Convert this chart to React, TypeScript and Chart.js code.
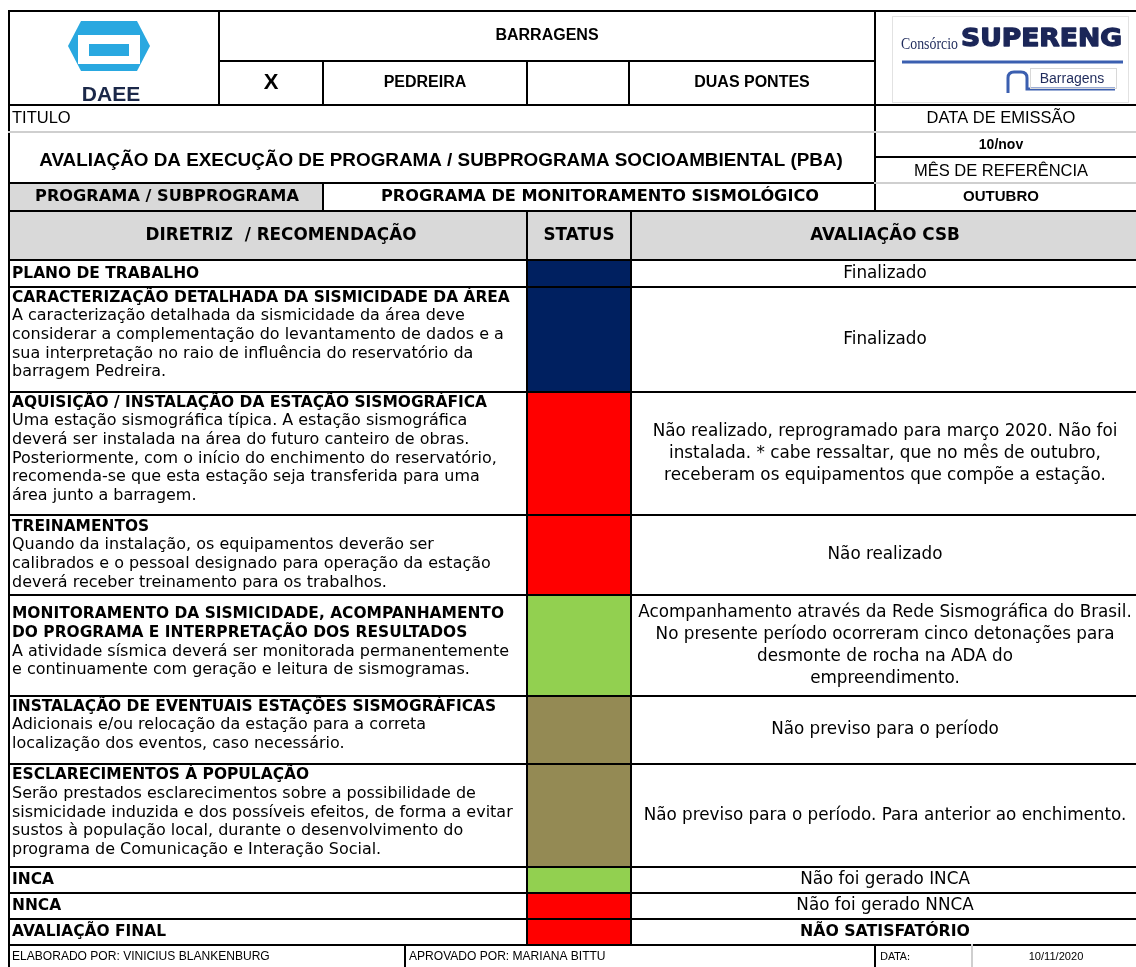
import React, { useEffect, useRef } from 'react';
import { Chart, registerables } from 'chart.js';

Chart.register(...registerables);

// ---------------- DATA ----------------
const HEADER_OBRA = 'BARRAGENS';
const HEADER_MARK = 'X';
const HEADER_BARRAGEM_1 = 'PEDREIRA';
const HEADER_BARRAGEM_2 = 'DUAS PONTES';
const TITLE_LABEL = 'TITULO';
const TITLE_TEXT = 'AVALIAÇÃO DA EXECUÇÃO DE PROGRAMA / SUBPROGRAMA SOCIOAMBIENTAL (PBA)';
const DATE_LABEL = 'DATA DE EMISSÃO';
const DATE_VALUE = '10/nov';
const MONTH_LABEL = 'MÊS DE REFERÊNCIA';
const MONTH_VALUE = 'OUTUBRO';
const PROGRAM_LABEL = 'PROGRAMA / SUBPROGRAMA';
const PROGRAM_NAME = 'PROGRAMA DE MONITORAMENTO SISMOLÓGICO';
const COLUMN_HEADERS = ['DIRETRIZ  / RECOMENDAÇÃO', 'STATUS', 'AVALIAÇÃO CSB'];

const DIRETRIZ_TITLES: string[][] = [
  ['PLANO DE TRABALHO'],
  ['CARACTERIZAÇÃO DETALHADA DA SISMICIDADE DA ÁREA'],
  ['AQUISIÇÃO / INSTALAÇÃO DA ESTAÇÃO SISMOGRÁFICA'],
  ['TREINAMENTOS'],
  ['MONITORAMENTO DA SISMICIDADE, ACOMPANHAMENTO', 'DO PROGRAMA E INTERPRETAÇÃO DOS RESULTADOS'],
  ['INSTALAÇÃO DE EVENTUAIS ESTAÇÕES SISMOGRÁFICAS'],
  ['ESCLARECIMENTOS À POPULAÇÃO'],
  ['INCA'],
  ['NNCA'],
  ['AVALIAÇÃO FINAL'],
];

const DIRETRIZ_TEXTS: string[][] = [
  [],
  [
    'A caracterização detalhada da sismicidade da área deve',
    'considerar a complementação do levantamento de dados e a',
    'sua interpretação no raio de influência do reservatório da',
    'barragem Pedreira.',
  ],
  [
    'Uma estação sismográfica típica. A estação sismográfica',
    'deverá ser instalada na área do futuro canteiro de obras.',
    'Posteriormente, com o início do enchimento do reservatório,',
    'recomenda-se que esta estação seja transferida para uma',
    'área junto a barragem.',
  ],
  [
    'Quando da instalação, os equipamentos deverão ser',
    'calibrados e o pessoal designado para operação da estação',
    'deverá receber treinamento para os trabalhos.',
  ],
  [
    'A atividade sísmica deverá ser monitorada permanentemente',
    'e continuamente com geração e leitura de sismogramas.',
  ],
  [
    'Adicionais e/ou relocação da estação para a correta',
    'localização dos eventos, caso necessário.',
  ],
  [
    'Serão prestados esclarecimentos sobre a possibilidade de',
    'sismicidade induzida e dos possíveis efeitos, de forma a evitar',
    'sustos à população local, durante o desenvolvimento do',
    'programa de Comunicação e Interação Social.',
  ],
  [],
  [],
  [],
];

const STATUS = [
  'concluido',
  'concluido',
  'atrasado',
  'atrasado',
  'em_andamento',
  'nao_previsto',
  'nao_previsto',
  'em_andamento',
  'atrasado',
  'atrasado',
];

const AVALIACAO: string[][] = [
  ['Finalizado'],
  ['Finalizado'],
  [
    'Não realizado, reprogramado para março 2020. Não foi',
    'instalada. * cabe ressaltar, que no mês de outubro,',
    'receberam os equipamentos que compõe a estação.',
  ],
  ['Não realizado'],
  [
    'Acompanhamento através da Rede Sismográfica do Brasil.',
    'No presente período ocorreram cinco detonações para',
    'desmonte de rocha na ADA do',
    'empreendimento.',
  ],
  ['Não previso para o período'],
  ['Não previso para o período. Para anterior ao enchimento.'],
  ['Não foi gerado INCA'],
  ['Não foi gerado NNCA'],
  ['NÃO SATISFATÓRIO'],
];

const FOOTER_ELABORADO = 'ELABORADO POR: VINICIUS BLANKENBURG';
const FOOTER_APROVADO = 'APROVADO POR: MARIANA BITTU';
const FOOTER_DATA_LABEL = 'DATA:';
const FOOTER_DATA_VALUE = '10/11/2020';

// ---------------- LAYOUT / STYLE ----------------
const W = 1136;
const H = 967;
const ROW_HEIGHTS = [27, 105, 123, 80, 101, 68, 103, 26, 26, 26];
// first-line offset from the row top (null = vertically centred)
const LEFT_TOP_PAD: (number | null)[] = [null, 10.5, 10.5, 11.5, 19, 10.5, 11, null, null, null];
const STATUS_COLORS: Record<string, string> = {
  concluido: '#002060',
  atrasado: '#FF0000',
  em_andamento: '#92D050',
  nao_previsto: '#948A54',
};
const X_L = 9;
const X_STATUS = 527;
const X_EVAL = 631;
const X_R = 1140;
const Y_BODY = 260;
const Y_END = 945;
const GRAY_FILL = '#d9d9d9';
const GRAY_LINE = '#cfcfcf';
const DEJAVU = '"DejaVu Sans"';
const LIB = '"Liberation Sans"';

function fitSize(ctx: CanvasRenderingContext2D, text: string, weight: string, family: string, target: number) {
  ctx.font = `${weight} 20px ${family}`;
  return (20 * target) / ctx.measureText(text).width;
}

const tablePlugin = {
  id: 'tablePlugin',
  afterDraw(chart: any) {
    const ctx: CanvasRenderingContext2D = chart.ctx;
    const yScale = chart.scales.y;
    ctx.save();

    const hline = (y: number, x1: number, x2: number, color = '#000', lw = 2) => {
      ctx.strokeStyle = color;
      ctx.lineWidth = lw;
      ctx.beginPath();
      ctx.moveTo(x1 - 1, y);
      ctx.lineTo(x2 + 1, y);
      ctx.stroke();
    };
    const vline = (x: number, y1: number, y2: number, color = '#000', lw = 2) => {
      ctx.strokeStyle = color;
      ctx.lineWidth = lw;
      ctx.beginPath();
      ctx.moveTo(x, y1 - 1);
      ctx.lineTo(x, y2 + 1);
      ctx.stroke();
    };
    const txt = (s: string, x: number, y: number, font: string, align: CanvasTextAlign = 'left', color = '#000') => {
      ctx.font = font;
      ctx.textAlign = align;
      ctx.textBaseline = 'middle';
      ctx.fillStyle = color;
      ctx.fillText(s, x, y);
    };

    // ---- fills ----
    ctx.fillStyle = GRAY_FILL;
    ctx.fillRect(X_L, 183, 323 - X_L, 28);
    ctx.fillRect(X_L, 211, X_R - X_L, Y_BODY - 211);

    // ---- DAEE logo ----
    const cx = 109;
    ctx.fillStyle = '#29a8e0';
    ctx.beginPath();
    ctx.moveTo(cx - 28, 21);
    ctx.lineTo(cx + 28, 21);
    ctx.lineTo(cx + 41, 46);
    ctx.lineTo(cx + 28, 71);
    ctx.lineTo(cx - 28, 71);
    ctx.lineTo(cx - 41, 46);
    ctx.closePath();
    ctx.fill();
    ctx.fillStyle = '#ffffff';
    ctx.fillRect(cx - 31, 35, 62, 9);
    ctx.fillRect(cx - 31, 56, 62, 8);
    ctx.fillRect(cx - 31, 44, 11, 12);
    ctx.fillRect(cx + 20, 44, 11, 12);
    txt('DAEE', cx + 2, 95, `bold 21px ${LIB}`, 'center', '#1b2849');

    // ---- SUPERENG logo ----
    ctx.strokeStyle = '#e2e2e2';
    ctx.lineWidth = 1;
    ctx.strokeRect(892.5, 16.5, 236, 86);
    ctx.save();
    ctx.font = `16px "Liberation Serif"`;
    const cw = ctx.measureText('Consórcio').width;
    ctx.translate(901, 45);
    ctx.scale(57 / cw, 1);
    ctx.fillStyle = '#1f2b5c';
    ctx.textBaseline = 'middle';
    ctx.textAlign = 'left';
    ctx.fillText('Consórcio', 0, 0);
    ctx.restore();
    ctx.save();
    ctx.font = `bold 24px ${DEJAVU}`;
    const sw = ctx.measureText('SUPERENG').width;
    ctx.translate(961, 40);
    ctx.scale(161 / sw, 1);
    ctx.fillStyle = '#1b2658';
    ctx.strokeStyle = '#1b2658';
    ctx.lineWidth = 1.3;
    ctx.lineJoin = 'round';
    ctx.textBaseline = 'middle';
    ctx.textAlign = 'left';
    ctx.fillText('SUPERENG', 0, 0);
    ctx.strokeText('SUPERENG', 0, 0);
    ctx.restore();
    ctx.strokeStyle = '#3b5fb0';
    ctx.lineWidth = 3;
    ctx.beginPath();
    ctx.moveTo(902, 62);
    ctx.lineTo(1123, 62);
    ctx.stroke();
    ctx.beginPath();
    ctx.moveTo(1008, 93);
    ctx.lineTo(1008, 78);
    ctx.quadraticCurveTo(1008, 72, 1014, 72);
    ctx.lineTo(1021, 72);
    ctx.quadraticCurveTo(1027, 72, 1027, 78);
    ctx.lineTo(1027, 89);
    ctx.lineTo(1115, 89);
    ctx.stroke();
    ctx.strokeStyle = '#d8d8d8';
    ctx.lineWidth = 1;
    ctx.strokeRect(1030.5, 68.5, 86, 20);
    txt('Barragens', 1072, 79, `14px ${LIB}`, 'center', '#1f2b5c');

    // ---- header texts ----
    txt(HEADER_OBRA, 547, 36, `bold 16px ${LIB}`, 'center');
    txt(HEADER_MARK, 271, 83, `bold 22px ${LIB}`, 'center');
    txt(HEADER_BARRAGEM_1, 425, 83, `bold 16px ${LIB}`, 'center');
    txt(HEADER_BARRAGEM_2, 752, 83, `bold 16px ${LIB}`, 'center');

    const smallSize = fitSize(ctx, DATE_LABEL, 'normal', LIB, 149);
    txt(TITLE_LABEL, 12, 118, `${smallSize}px ${LIB}`, 'left');
    txt(DATE_LABEL, 1001, 118, `${smallSize}px ${LIB}`, 'center');
    txt(DATE_VALUE, 1001, 145, `bold 14px ${LIB}`, 'center');
    txt(MONTH_LABEL, 1001, 171, `${smallSize}px ${LIB}`, 'center');
    txt(MONTH_VALUE, 1001, 197, `bold 15px ${LIB}`, 'center');

    const titleSize = fitSize(ctx, TITLE_TEXT, 'bold', LIB, 804);
    txt(TITLE_TEXT, 441, 161, `bold ${titleSize}px ${LIB}`, 'center');

    const progSize = fitSize(ctx, PROGRAM_LABEL, 'bold', DEJAVU, 264);
    txt(PROGRAM_LABEL, 167, 197, `bold ${progSize}px ${DEJAVU}`, 'center');
    txt(PROGRAM_NAME, 600, 197, `bold ${progSize}px ${DEJAVU}`, 'center');

    const headSize = progSize * 1.04;
    txt(COLUMN_HEADERS[0], 281, 236, `bold ${headSize}px ${DEJAVU}`, 'center');
    txt(COLUMN_HEADERS[1], 579, 236, `bold ${headSize}px ${DEJAVU}`, 'center');
    txt(COLUMN_HEADERS[2], 885, 236, `bold ${headSize}px ${DEJAVU}`, 'center');

    // ---- body ----
    const boldSize = fitSize(ctx, DIRETRIZ_TITLES[1][0], 'bold', DEJAVU, 498);
    const regSize = fitSize(ctx, DIRETRIZ_TEXTS[1][1], 'normal', DEJAVU, 492);
    const evalSize = fitSize(ctx, AVALIACAO[2][0], 'normal', DEJAVU, 465);
    const LH_LEFT = 18.7;
    const LH_EVAL = 21.8;

    let acc = 0;
    const bounds: number[] = [yScale.getPixelForValue(0)];
    ROW_HEIGHTS.forEach((h, i) => {
      const top = yScale.getPixelForValue(acc);
      acc += h;
      const bottom = yScale.getPixelForValue(acc);
      bounds.push(bottom);
      const lines = [
        ...DIRETRIZ_TITLES[i].map((s) => ({ s, bold: true })),
        ...DIRETRIZ_TEXTS[i].map((s) => ({ s, bold: false })),
      ];
      const n = lines.length;
      const pad = LEFT_TOP_PAD[i];
      const y0 = pad !== null ? top + pad : (top + bottom) / 2 - ((n - 1) * LH_LEFT) / 2;
      lines.forEach((l, k) => {
        txt(
          l.s,
          12,
          y0 + k * LH_LEFT,
          l.bold ? `bold ${boldSize}px ${DEJAVU}` : `${regSize}px ${DEJAVU}`,
          'left'
        );
      });
      const ev = AVALIACAO[i];
      const isFinal = i === ROW_HEIGHTS.length - 1;
      const e0 = (top + bottom) / 2 - ((ev.length - 1) * LH_EVAL) / 2;
      ev.forEach((s, k) => {
        txt(
          s,
          885,
          e0 + k * LH_EVAL,
          isFinal ? `bold ${boldSize * 1.02}px ${DEJAVU}` : `${evalSize}px ${DEJAVU}`,
          'center'
        );
      });
    });

    // ---- footer ----
    const footSize = fitSize(ctx, FOOTER_ELABORADO, 'normal', LIB, 258);
    txt(FOOTER_ELABORADO, 12, 957, `${footSize}px ${LIB}`, 'left');
    txt(FOOTER_APROVADO, 409, 957, `${footSize}px ${LIB}`, 'left');
    txt(FOOTER_DATA_LABEL, 880, 957, `10.5px ${DEJAVU}`, 'left');
    txt(FOOTER_DATA_VALUE, 1056, 957, `${footSize * 0.92}px ${LIB}`, 'center');

    // ---- grid lines ----
    hline(11, X_L, X_R);
    vline(X_L, 11, H);
    vline(219, 11, 105);
    hline(61, 219, 875);
    vline(875, 11, 211);
    vline(323, 61, 105);
    vline(527, 61, 105);
    vline(629, 61, 105);
    hline(105, X_L, X_R);
    hline(132, X_L, X_R, GRAY_LINE, 2);
    hline(157, 875, X_R);
    hline(183, X_L, 875);
    hline(183, 875, X_R, GRAY_LINE, 2);
    vline(323, 183, 211);
    hline(211, X_L, X_R);
    bounds.forEach((y) => hline(y, X_L, X_R));
    vline(X_STATUS, 211, Y_END);
    vline(X_EVAL, 211, Y_END);
    vline(405, Y_END, H);
    vline(875, Y_END, H);
    vline(972, Y_END, H, GRAY_LINE, 2);

    ctx.restore();
  },
};

export default function App() {
  const ref = useRef<HTMLCanvasElement>(null);
  useEffect(() => {
    const canvas = ref.current;
    if (!canvas) return;
    const total = ROW_HEIGHTS.reduce((a, b) => a + b, 0);
    const chart = new Chart(canvas, {
      type: 'bar',
      data: {
        labels: ['STATUS'],
        datasets: ROW_HEIGHTS.map((h, i) => ({
          label: DIRETRIZ_TITLES[i][0],
          data: [h],
          backgroundColor: STATUS_COLORS[STATUS[i]],
          borderWidth: 0,
          barPercentage: 1,
          categoryPercentage: 1,
          stack: 'status',
        })),
      },
      options: {
        responsive: false,
        animation: false,
        devicePixelRatio: 1,
        layout: {
          padding: { left: X_STATUS, top: Y_BODY, right: W - X_EVAL, bottom: H - Y_END },
        },
        scales: {
          x: { display: false, stacked: true },
          y: { display: false, stacked: true, reverse: true, min: 0, max: total },
        },
        plugins: { legend: { display: false }, tooltip: { enabled: false } },
      },
      plugins: [tablePlugin],
    });
    return () => chart.destroy();
  }, []);
  return (
    <div style={{ position: 'absolute', left: 0, top: 0, width: W, height: H, background: '#ffffff' }}>
      <canvas ref={ref} width={W} height={H} style={{ display: 'block', width: W, height: H }} />
    </div>
  );
}
